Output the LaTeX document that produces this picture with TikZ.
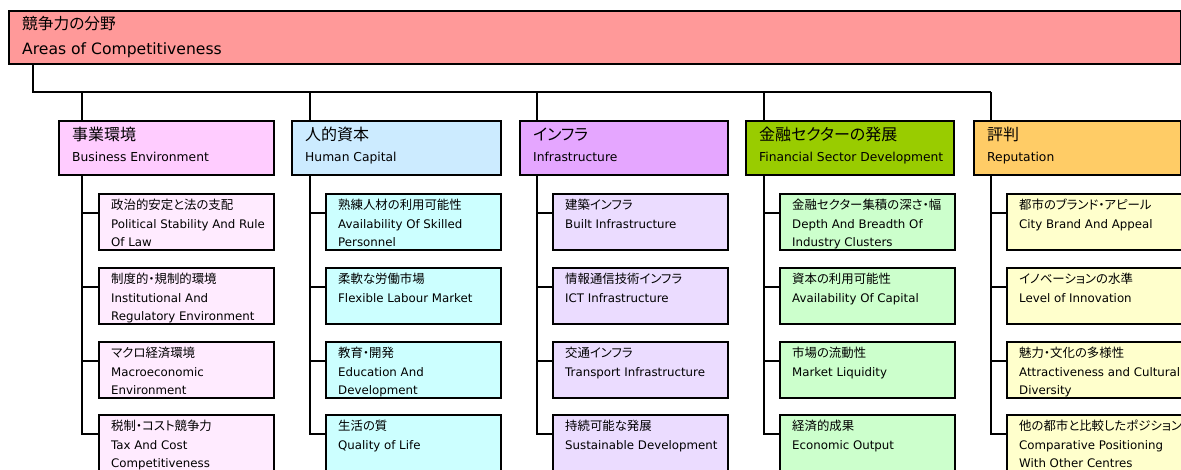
\documentclass[tikz,border=0pt]{standalone}
\usepackage{fontspec}
\setmainfont{DejaVu Sans}
\newfontfamily\jpf[RawFeature=+palt]{Noto Sans CJK JP}
\usetikzlibrary{calc}
\definecolor{topc}{HTML}{FF9999}
\definecolor{bh}{HTML}{FFCCFF}\definecolor{bs}{HTML}{FFEBFF}
\definecolor{hh}{HTML}{CCEBFF}\definecolor{hs}{HTML}{CCFFFF}
\definecolor{ih}{HTML}{E5A6FF}\definecolor{is}{HTML}{EBDCFF}
\definecolor{fh}{HTML}{99CC00}\definecolor{fs}{HTML}{CCFFCC}
\definecolor{rh}{HTML}{FFCC66}\definecolor{rs}{HTML}{FFFFCC}
\tikzset{
  conn/.style={line width=2pt, draw=black},
  boxst/.style={draw=black, line width=2pt, anchor=north west, inner sep=0pt},
  topbox/.style={boxst, fill=topc, minimum width=1172pt, minimum height=53pt},
  hbox/.style={boxst, minimum height=54pt},
  sbox/.style={boxst, minimum width=175pt, minimum height=56pt},
  txt/.style={inner sep=0pt, anchor=base west},
  jpt/.style={txt, font=\jpf\fontsize{15.7}{18}\selectfont},
  ent/.style={txt, font=\fontsize{15.6}{18}\selectfont},
  jph/.style={txt, font=\jpf\fontsize{16}{18}\selectfont},
  enh/.style={txt, font=\fontsize{12.3}{18}\selectfont},
  jps/.style={txt, font=\jpf\fontsize{12.4}{18}\selectfont},
  ens/.style={txt, font=\fontsize{11.8}{18}\selectfont}
}
\newcommand\myhead[6]{%
  \node[hbox, fill=#4, minimum width=#3pt] (#1) at (#2,120) {};
  \node[jph] (#1j) at ($(#1.north west)+(14,20)$) {#5};
  \node[enh] (#1e) at ($(#1.north west)+(14,41)$) {#6};
}
\newcommand\mysub[7]{%
  \node[sbox, fill=#4] (#1) at (#2,#3) {};
  \node[jps] (#1j) at ($(#1.north west)+(13,16)$) {#5};
  \node[ens] (#1e) at ($(#1.north west)+(13,35)$) {#6};
  \if\relax\detokenize{#7}\relax\else
    \node[ens] (#1f) at ($(#1.north west)+(13,53)$) {#7};
  \fi
  \coordinate (#1c) at ($(#1.north west)+(0,20)$);
}
\begin{document}
\begin{tikzpicture}[x=1pt, y=-1pt]
\useasboundingbox (0,0) rectangle (1181,469);
\clip (0,0) rectangle (1181,469);

% top box
\node[topbox] (top) at (8,10) {};
\node[jpt] (topj) at ($(top.north west)+(14,19)$) {競争力の分野};
\node[ent] (tope) at ($(top.north west)+(14,44)$) {Areas of Competitiveness};

% headers
\myhead{h1}{58}{215}{bh}{事業環境}{Business Environment}
\myhead{h2}{291}{209}{hh}{人的資本}{Human Capital}
\myhead{h3}{519}{208}{ih}{インフラ}{Infrastructure}
\myhead{h4}{745}{208}{fh}{金融セクターの発展}{Financial Sector Development}
\myhead{h5}{973}{207}{rh}{評判}{Reputation}

% column 1
\mysub{s11}{98}{193}{bs}{政治的安定と法の支配}{Political Stability And Rule}{Of Law}
\mysub{s12}{98}{267}{bs}{制度的・規制的環境}{Institutional And}{Regulatory Environment}
\mysub{s13}{98}{341}{bs}{マクロ経済環境}{Macroeconomic}{Environment}
\mysub{s14}{98}{414}{bs}{税制・コスト競争力}{Tax And Cost}{Competitiveness}
% column 2
\mysub{s21}{325}{193}{hs}{熟練人材の利用可能性}{Availability Of Skilled}{Personnel}
\mysub{s22}{325}{267}{hs}{柔軟な労働市場}{Flexible Labour Market}{}
\mysub{s23}{325}{341}{hs}{教育・開発}{Education And}{Development}
\mysub{s24}{325}{414}{hs}{生活の質}{Quality of Life}{}
% column 3
\mysub{s31}{552}{193}{is}{建築インフラ}{Built Infrastructure}{}
\mysub{s32}{552}{267}{is}{情報通信技術インフラ}{ICT Infrastructure}{}
\mysub{s33}{552}{341}{is}{交通インフラ}{Transport Infrastructure}{}
\mysub{s34}{552}{414}{is}{持続可能な発展}{Sustainable Development}{}
% column 4
\mysub{s41}{779}{193}{fs}{金融セクター集積の深さ・幅}{Depth And Breadth Of}{Industry Clusters}
\mysub{s42}{779}{267}{fs}{資本の利用可能性}{Availability Of Capital}{}
\mysub{s43}{779}{341}{fs}{市場の流動性}{Market Liquidity}{}
\mysub{s44}{779}{414}{fs}{経済的成果}{Economic Output}{}
% column 5
\mysub{s51}{1006}{193}{rs}{都市のブランド・アピール}{City Brand And Appeal}{}
\mysub{s52}{1006}{267}{rs}{イノベーションの水準}{Level of Innovation}{}
\mysub{s53}{1006}{341}{rs}{魅力・文化の多様性}{Attractiveness and Cultural}{Diversity}
\mysub{s54}{1006}{414}{rs}{他の都市と比較したポジション}{Comparative Positioning}{With Other Centres}

% connectors
\coordinate (bl) at (33,92);
\coordinate (br) at (991,92);
\draw[conn] (top.south -| bl) -- (bl) -- (br);
\coordinate (t1) at (82,92);
\coordinate (t2) at (310,92);
\coordinate (t3) at (537,92);
\coordinate (t4) at (764,92);
\coordinate (t5) at (991,92);
\foreach \c in {1,...,5}{
  \draw[conn] (t\c) -- (t\c |- h\c.north);
  \draw[conn] (t\c |- h\c.south) -- (t\c |- s\c4c) -- (s\c4c);
  \foreach \r in {1,2,3}{
    \draw[conn] (t\c |- s\c\r c) -- (s\c\r c);
  }
}
\end{tikzpicture}
\end{document}
